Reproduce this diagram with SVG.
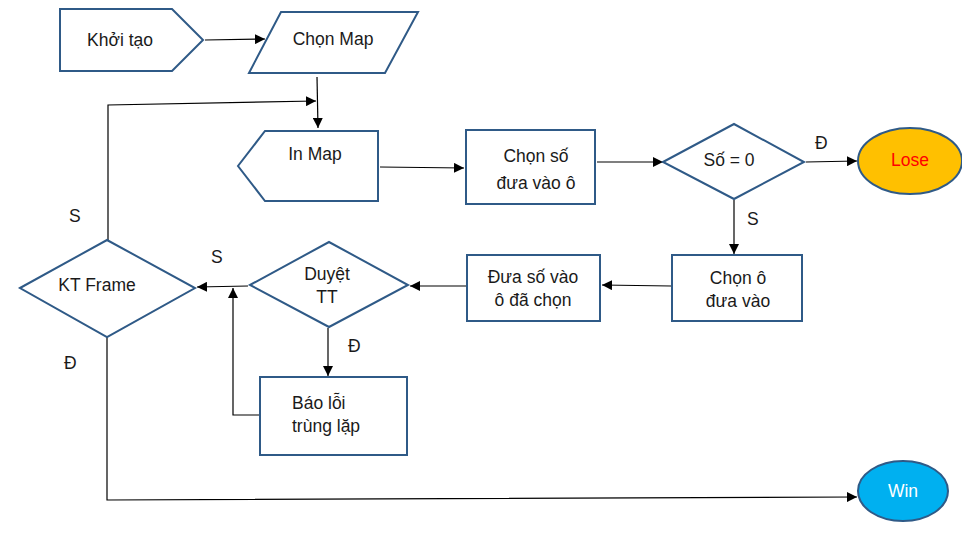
<svg xmlns="http://www.w3.org/2000/svg" width="962" height="538" viewBox="0 0 962 538">
<defs>
<marker id="ah" viewBox="0 0 10 10" refX="10" refY="5" markerWidth="10" markerHeight="10" markerUnits="userSpaceOnUse" orient="auto">
<path d="M0,0 L10,5 L0,10 z" fill="#000"/>
</marker>
</defs>
<style>
.s{fill:#fff;stroke:#2F5A87;stroke-width:2}
.t{font-family:"Liberation Sans",Arial,sans-serif;font-size:17.5px;fill:#1a1a1a;text-anchor:middle}
.l{font-family:"Liberation Sans",Arial,sans-serif;font-size:17.5px;fill:#1a1a1a}
.c{fill:none;stroke:#000;stroke-width:1.2;marker-end:url(#ah)}
.c0{fill:none;stroke:#000;stroke-width:1.2}
</style>
<rect width="962" height="538" fill="#fff"/>
<g id="connectors">
<path class="c" d="M205,40 L265,39"/>
<path class="c" d="M317,77 L318,128"/>
<path class="c" d="M108,240 L108,105 L316,101"/>
<path class="c" d="M380,167 L464,168"/>
<path class="c" d="M597,162 L663,162"/>
<path class="c" d="M806,162 L857,161"/>
<path class="c" d="M734,200 L734,254"/>
<path class="c" d="M671,286 L602,285"/>
<path class="c" d="M466,286 L410,286"/>
<path class="c" d="M248,286 L197,287"/>
<path class="c" d="M328,328 L328,376"/>
<path class="c" d="M260,415 L233,415 L233,288"/>
<path class="c" d="M107,337 L107,500 L857,497"/>
<text class="l" x="815" y="149">Đ</text>
<text class="l" x="747" y="225">S</text>
<text class="l" x="211" y="263">S</text>
<text class="l" x="69" y="222">S</text>
<text class="l" x="64" y="369">Đ</text>
<text class="l" x="348" y="352">Đ</text>
</g>
<g id="khoitao">
<path class="s" d="M60,9 L172,9 L203,40 L172,71 L60,71 z"/>
<text class="t" x="120" y="46">Khởi tạo</text>
</g>
<g id="chonmap">
<path class="s" d="M281,12 L418,12 L385,73 L249,73 z"/>
<text class="t" x="333" y="45">Chọn Map</text>
</g>
<g id="inmap">
<path class="s" d="M265,131 L378,131 L378,201 L265,201 L238,166 z"/>
<text class="t" x="315" y="160">In Map</text>
</g>
<g id="chonso">
<rect class="s" x="466" y="130" width="129" height="74"/>
<text class="t" x="536" y="162">Chọn số</text>
<text class="t" x="536" y="189">đưa vào ô</text>
</g>
<g id="so0">
<path class="s" d="M663,162 L734,124 L804,162 L734,199 z"/>
<text class="t" x="729" y="166">Số = 0</text>
</g>
<g id="lose">
<ellipse cx="910" cy="161" rx="52" ry="33" fill="#FFC000" stroke="#2F5A87" stroke-width="2"/>
<text class="t" x="910" y="166" style="fill:#FF0000">Lose</text>
</g>
<g id="chono">
<rect class="s" x="672" y="255" width="130" height="66"/>
<text class="t" x="738" y="284">Chọn ô</text>
<text class="t" x="738" y="307">đưa vào</text>
</g>
<g id="duaso">
<rect class="s" x="467" y="255" width="133" height="66"/>
<text class="t" x="533" y="283">Đưa số vào</text>
<text class="t" x="533" y="306">ô đã chọn</text>
</g>
<g id="duyet">
<path class="s" d="M250,285 L329,242 L408,285 L329,327 z"/>
<text class="t" x="327" y="280">Duyệt</text>
<text class="t" x="327" y="303">TT</text>
</g>
<g id="ktframe">
<path class="s" d="M20,288 L107,240 L195,288 L107,337 z"/>
<text class="t" x="97" y="291">KT Frame</text>
</g>
<g id="baoloi">
<rect class="s" x="260" y="377" width="147" height="78"/>
<text class="l" x="292" y="409">Báo lỗi</text>
<text class="l" x="292" y="432">trùng lặp</text>
</g>
<g id="win">
<ellipse cx="903" cy="491" rx="45" ry="30" fill="#00B0F0" stroke="#2F5A87" stroke-width="2"/>
<text class="t" x="903" y="497" style="fill:#fff">Win</text>
</g>
</svg>
